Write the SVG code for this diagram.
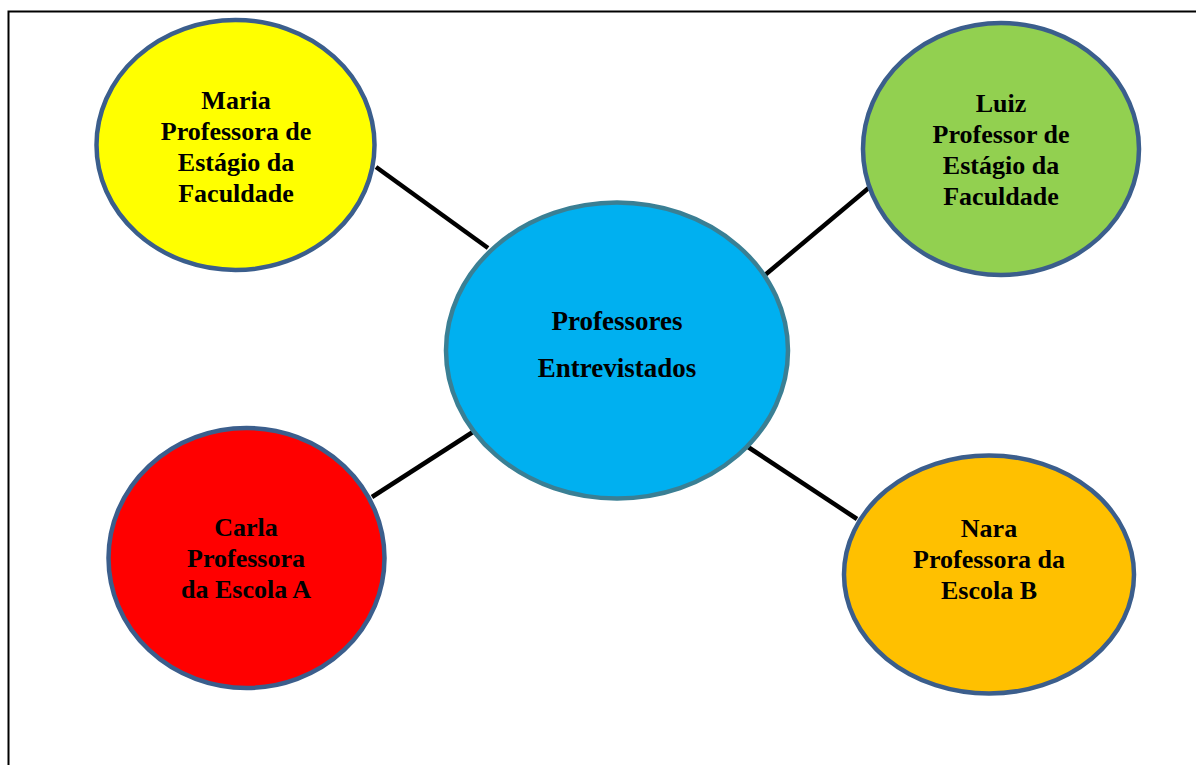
<svg xmlns="http://www.w3.org/2000/svg" width="1196" height="765" viewBox="0 0 1196 765">
<style>
.n{stroke:#3B5E8C;stroke-width:4.5}
.c{stroke:#3A7F94;stroke-width:4.5}
.t{font-family:"Liberation Serif","Times New Roman",serif;font-weight:bold;font-size:26px;text-anchor:middle;fill:#000}
.tc{font-size:27px}
.e{stroke:#000;stroke-width:4.5;fill:none}
</style>
<rect x="0" y="0" width="1196" height="765" fill="#fff"/>
<path d="M8.5,765 V11.5 H1196" fill="none" stroke="#000" stroke-width="2"/>
<g id="connectors">
<line class="e" x1="376" y1="167" x2="488" y2="248"/>
<line class="e" x1="871" y1="186" x2="765" y2="275"/>
<line class="e" x1="372" y1="497" x2="476" y2="430"/>
<line class="e" x1="748" y1="447" x2="857" y2="519"/>
</g>
<g id="maria">
<ellipse class="n" cx="235.5" cy="145" rx="139" ry="125" fill="#FFFF00"/>
<text class="t" x="236" y="109">Maria</text>
<text class="t" x="236" y="140">Professora de</text>
<text class="t" x="236" y="171">Estágio da</text>
<text class="t" x="236" y="202">Faculdade</text>
</g>
<g id="luiz">
<ellipse class="n" cx="1001" cy="149" rx="138" ry="126" fill="#92D050"/>
<text class="t" x="1001" y="112">Luiz</text>
<text class="t" x="1001" y="143">Professor de</text>
<text class="t" x="1001" y="174">Estágio da</text>
<text class="t" x="1001" y="205">Faculdade</text>
</g>
<g id="center">
<ellipse class="c" cx="617" cy="350.5" rx="171" ry="148" fill="#00B0F0"/>
<text class="t tc" x="617" y="330">Professores</text>
<text class="t tc" x="617" y="377">Entrevistados</text>
</g>
<g id="carla">
<ellipse class="n" cx="246.5" cy="558" rx="138" ry="130" fill="#FF0000"/>
<text class="t" x="246" y="536">Carla</text>
<text class="t" x="246" y="567">Professora</text>
<text class="t" x="246" y="598">da Escola A</text>
</g>
<g id="nara">
<ellipse class="n" cx="989" cy="574.5" rx="145" ry="119" fill="#FFC000"/>
<text class="t" x="989" y="537">Nara</text>
<text class="t" x="989" y="568">Professora da</text>
<text class="t" x="989" y="599">Escola B</text>
</g>
</svg>
